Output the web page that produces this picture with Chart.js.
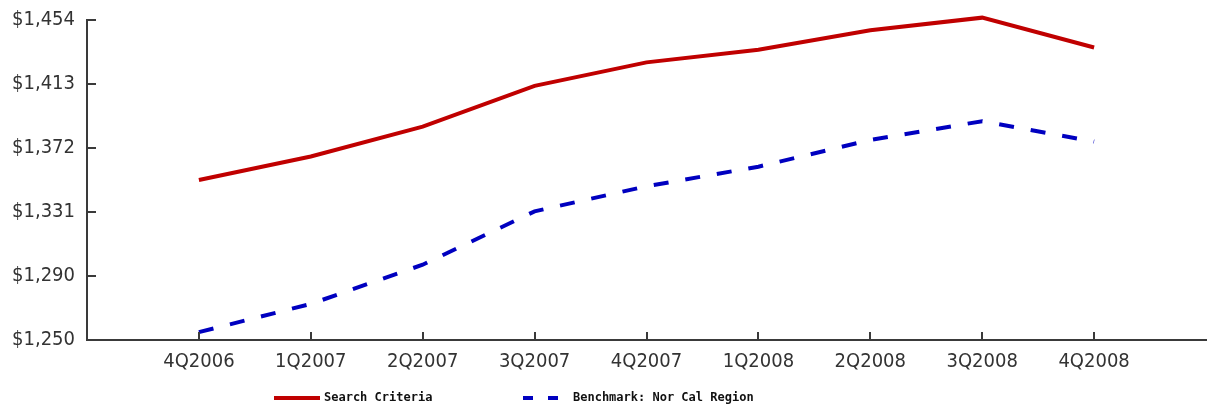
<!DOCTYPE html>
<html>
<head>
<meta charset="utf-8">
<script src="https://cdn.jsdelivr.net/npm/chart.js@4.4.0/dist/chart.umd.min.js"></script>
<style>
    html, body { margin: 0; padding: 0; background: #fff; }
    #wrap { width: 1210px; height: 410px; }
</style>
</head>
<body>
<div id="wrap"><canvas id="priceChart" width="1210" height="410"></canvas></div>
<script>
// quarters on the x axis
const quarters = ['4Q2006', '1Q2007', '2Q2007', '3Q2007', '4Q2007', '1Q2008', '2Q2008', '3Q2008', '4Q2008'];

// values
const searchCriteria = [1352, 1367, 1386, 1412, 1427, 1435, 1447.5, 1455.5, 1436.5];
const benchmark = [1255, 1273, 1298, 1332, 1348, 1360.5, 1377.5, 1389.5, 1376.5];

// y axis ticks
const yTickValues = [1250, 1290.8, 1331.6, 1372.4, 1413.2, 1454];
const yTickLabels = ['$1,250', '$1,290', '$1,331', '$1,372', '$1,413', '$1,454'];

const seriesNames = ['Search Criteria', 'Benchmark: Nor Cal Region'];

const axisColor = '#3a3a3a';
const tickFont = { family: "'DejaVu Sans Condensed', 'DejaVu Sans', sans-serif", size: 20 };

// blank slot at each end so the quarters sit one step in from the axis ends
const labels = [''].concat(quarters, ['']);
const pad = arr => [null].concat(arr, [null]);

// small tick marks that point into the plot
const innerTicks = {
    id: 'innerTicks',
    afterDraw(chart) {
        const ctx = chart.ctx;
        const x = chart.scales.x;
        const y = chart.scales.y;
        ctx.save();
        ctx.strokeStyle = axisColor;
        ctx.lineWidth = 2;
        ctx.beginPath();
        labels.forEach((lab, i) => {
            if (!lab) return;
            const px = Math.round(x.getPixelForValue(i));
            ctx.moveTo(px, x.top);
            ctx.lineTo(px, x.top - 8);
        });
        yTickValues.forEach(v => {
            const py = Math.round(y.getPixelForValue(v));
            ctx.moveTo(y.right, py);
            ctx.lineTo(y.right + 9, py);
        });
        ctx.stroke();
        ctx.restore();
    }
};

// legend under the chart, left of centre like the original
const lineLegend = {
    id: 'lineLegend',
    afterDraw(chart) {
        const ctx = chart.ctx;
        const spots = [{ x: 274, len: 46, textX: 324 }, { x: 523, len: 40, textX: 573 }];
        const ly = 398;
        ctx.save();
        chart.data.datasets.forEach((ds, i) => {
            const s = spots[i];
            ctx.strokeStyle = ds.borderColor;
            ctx.lineWidth = 4;
            ctx.setLineDash(ds.borderDash ? [10, 15] : []);
            ctx.beginPath();
            ctx.moveTo(s.x, ly);
            ctx.lineTo(s.x + s.len, ly);
            ctx.stroke();
            ctx.setLineDash([]);
            ctx.fillStyle = '#111';
            ctx.font = "bold 12px 'DejaVu Sans Mono', monospace";
            ctx.textBaseline = 'middle';
            ctx.textAlign = 'left';
            ctx.fillText(ds.label, s.textX, ly);
        });
        ctx.restore();
    }
};

const ctx = document.getElementById('priceChart').getContext('2d');
const priceChart = new Chart(ctx, {
    type: 'line',
    data: {
        labels: labels,
        datasets: [{
            label: seriesNames[0],
            data: pad(searchCriteria),
            borderColor: '#c00000',
            borderWidth: 4,
            pointRadius: 0,
            tension: 0,
            clip: false,
            fill: false
        }, {
            label: seriesNames[1],
            data: pad(benchmark),
            borderColor: '#0000c0',
            borderWidth: 4,
            borderDash: [15, 17],
            pointRadius: 0,
            tension: 0,
            clip: false,
            fill: false
        }]
    },
    options: {
        responsive: false,
        animation: false,
        layout: {
            padding: { top: 20, right: 4, bottom: 35, left: 0 }
        },
        plugins: {
            legend: { display: false },
            tooltip: { enabled: false }
        },
        scales: {
            x: {
                offset: false,
                grid: { display: true, drawOnChartArea: false, drawTicks: false },
                border: { color: axisColor, width: 2 },
                ticks: {
                    autoSkip: false,
                    maxRotation: 0,
                    padding: 10,
                    color: '#333',
                    font: tickFont
                },
                afterFit: scale => {
                    scale.height = 35;
                    scale.paddingLeft = 0;
                    scale.paddingRight = 0;
                }
            },
            y: {
                min: 1250,
                max: 1454,
                grid: { display: true, drawOnChartArea: false, drawTicks: false },
                border: { color: axisColor, width: 2 },
                afterBuildTicks: scale => {
                    scale.ticks = yTickValues.map(v => ({ value: v }));
                },
                ticks: {
                    padding: 12,
                    color: '#333',
                    font: tickFont,
                    callback: (value, index) => yTickLabels[index]
                },
                afterFit: scale => {
                    scale.width = 87;
                    scale.paddingTop = 0;
                    scale.paddingBottom = 0;
                }
            }
        }
    },
    plugins: [innerTicks, lineLegend]
});
</script>
</body>
</html>
